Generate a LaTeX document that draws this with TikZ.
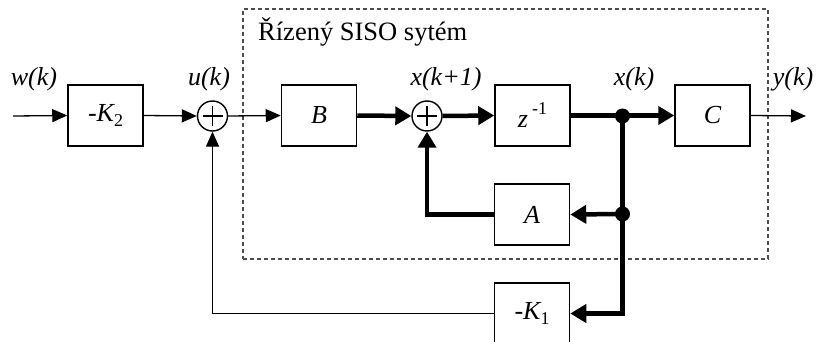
\documentclass[tikz,border=0pt]{standalone}
\usepackage{fontspec}
\setmainfont{Liberation Serif}
\usetikzlibrary{arrows.meta}
\newcommand{\mysub}[1]{\raisebox{-0.22em}{\fontsize{18}{20}\selectfont #1}}
\newcommand{\mysup}[1]{\raisebox{0.5em}{\fontsize{18}{20}\selectfont #1}}
\tikzset{
  blk/.style={draw, line width=1.5pt, minimum width=75pt, minimum height=61pt, inner sep=0pt, font=\fontsize{26}{30}\selectfont\itshape},
  sumnode/.style={draw, circle, line width=1.4pt, minimum size=30pt, inner sep=0pt,
    path picture={\draw[line width=1.4pt] ([xshift=-10pt]path picture bounding box.center) -- ([xshift=10pt]path picture bounding box.center);
                  \draw[line width=1.4pt] ([yshift=-10pt]path picture bounding box.center) -- ([yshift=10pt]path picture bounding box.center);}},
  dotnode/.style={circle, fill=black, minimum size=15pt, inner sep=0pt},
  lbl/.style={font=\fontsize{26}{30}\selectfont\itshape, inner sep=0pt, anchor=base},
  thinarr/.style={line width=1.3pt, -{Triangle[length=15pt,width=13pt]}},
  thickarr/.style={line width=4.5pt, -{Triangle[length=16pt,width=18pt]}},
  sysbox/.style={draw=black!70, line width=1.1pt, dash pattern=on 4pt off 3pt, minimum width=525pt, minimum height=250pt, inner sep=0pt}
}
\begin{document}
\begin{tikzpicture}[x=1pt,y=-1pt]
\useasboundingbox (0,0) rectangle (818,342);
\node[sysbox] (sys) at (505.5,134) {};
\node[font=\fontsize{26.5}{30}\selectfont, inner sep=0pt, anchor=base west] (title) at (258,41) {Řízený SISO sytém};

\coordinate (in) at (13,116);
\coordinate (out) at (806,116);
\coordinate (j1) at (622.5,116);
\coordinate (j2) at (622.5,214);
\node[blk] (k2) at (105.5,115.5) {-K\mysub{\upshape 2}};
\node[sumnode] (s1) at (212.5,116) {};
\node[blk] (b) at (319,115.5) {B};
\node[sumnode] (s2) at (427,116) {};
\node[blk] (z) at (532.5,115.5) {z\,\mysup{\upshape -1}};
\node[blk] (c) at (712.5,115.5) {C};
\node[blk] (a) at (532,214.5) {A};
\node[blk] (k1) at (532,313.5) {-K\mysub{\upshape 1}};

\node[lbl] (lw) at (34,86) {w(k)};
\node[lbl] (lu) at (209,86) {u(k)};
\node[lbl] (lx1) at (446,86) {x(k+1)};
\node[lbl] (lx) at (634,86) {x(k)};
\node[lbl] (ly) at (793,86) {y(k)};

\draw[thinarr] (in) -- (k2.west);
\draw[thinarr] (k2.east) -- (s1.west);
\draw[thinarr] (s1.east) -- (b.west);
\draw[thickarr] (b.east) -- (s2.west);
\draw[thickarr] (s2.east) -- (z.west);
\draw[thickarr] (z.east) -- (c.west);
\draw[thinarr] (c.east) -- (out);
\draw[thickarr] (j1) |- (k1.east);
\draw[thickarr] (j2) -- (a.east);
\draw[thickarr] (a.west) -| (s2.south);
\draw[thinarr] (k1.west) -| (s1.south);
\node[dotnode] (d1) at (j1) {};
\node[dotnode, minimum width=13pt] (d2) at (j2) {};
\end{tikzpicture}
\end{document}
